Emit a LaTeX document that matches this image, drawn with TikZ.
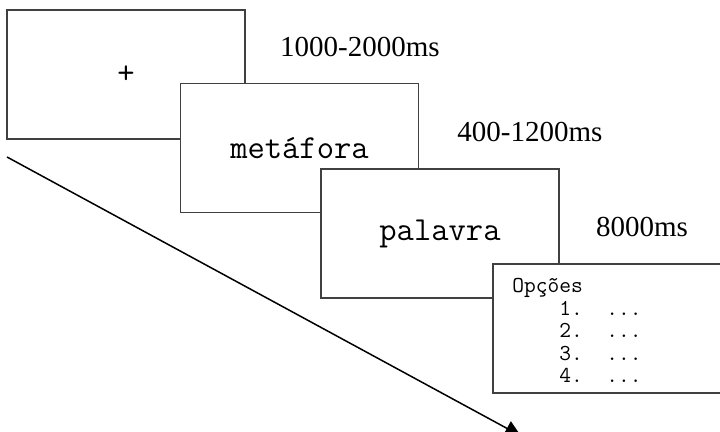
\documentclass[tikz,border=0pt]{standalone}
\usepackage{fontspec}
\setmainfont{Liberation Serif}
\usetikzlibrary{arrows.meta}

\newcommand{\optline}[1]{\hphantom{0000}#1.\hphantom{00}...}

\begin{document}
\begin{tikzpicture}[x=0.5pt, y=-0.5pt,
      screen/.style = {shape=rectangle, draw=black!75, line width=0.75pt,
        fill=white, minimum width=119pt, minimum height=64.5pt,
        font=\fontsize{16.8}{18}\ttfamily},
      dur/.style = {font=\fontsize{14.5}{16}\selectfont}]
  \useasboundingbox (0,0) rectangle (720,432);
  % time axis
  \coordinate (start) at (7,157);
  \coordinate (stop) at (521,436);
  \draw[line width=0.75pt, -{Triangle[length=8pt,width=8pt]}] (start) -- (stop);
  % screens
  \node[screen] (fix) at (126,74.5) {+};
  \node[screen] (prime) at (299.5,148) {metáfora};
  \node[screen] (target) at (440,233.5) {palavra};
  \node[screen] (choice) at (612,328.5) {};
  \node[anchor=north west, inner sep=0pt, align=left,
    font=\fontsize{11.4}{11.25}\ttfamily] (opts) at (512,278)
    {Opções\\ \optline{1}\\ \optline{2}\\ \optline{3}\\ \optline{4}};
  % durations
  \node[dur] (fixtime) at (360,47) {1000-2000ms};
  \node[dur] (primetime) at (530,132) {400-1200ms};
  \node[dur] (targettime) at (642,227) {8000ms};
\end{tikzpicture}
\end{document}
